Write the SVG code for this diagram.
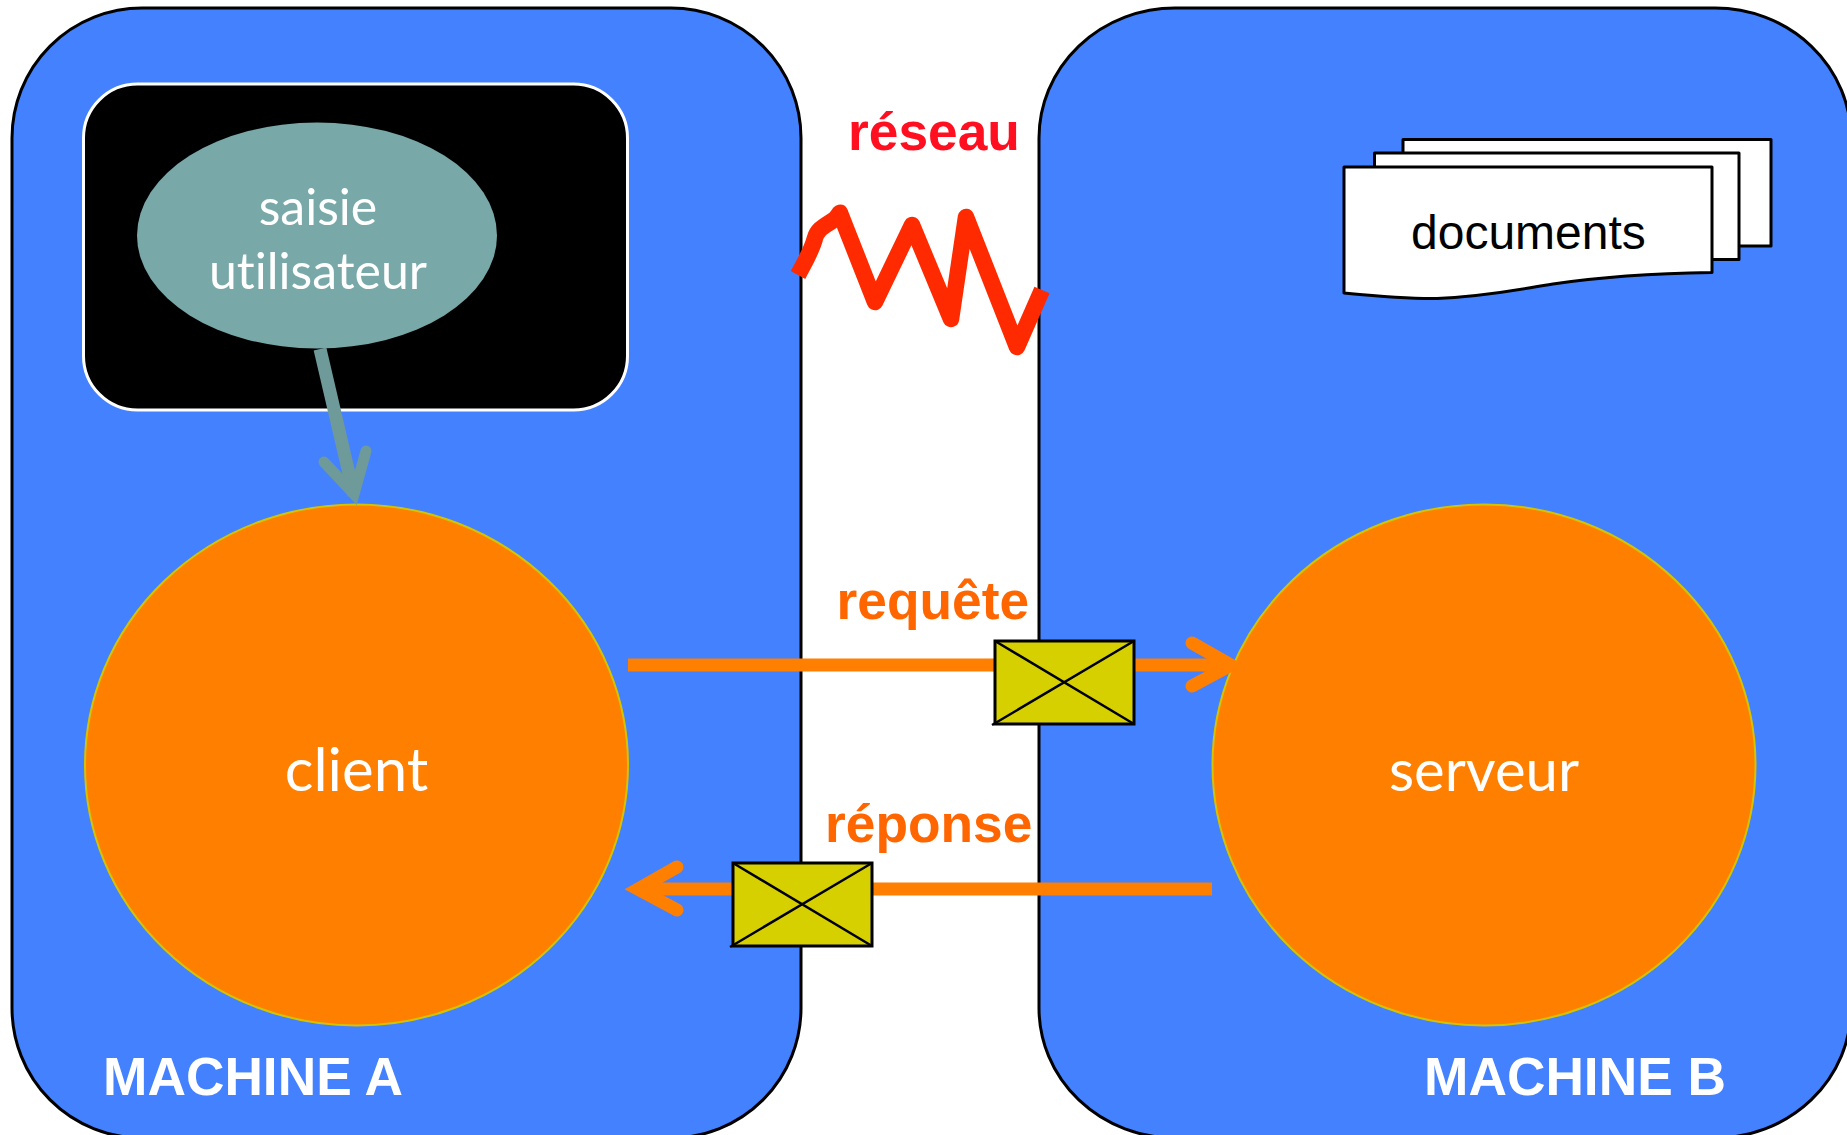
<svg xmlns="http://www.w3.org/2000/svg" width="1847" height="1135" viewBox="0 0 1847 1135">
<style>
.machine{fill:#4481ff;stroke:#000;stroke-width:3}
.proc{fill:#ff7f00;stroke:#d4c400;stroke-width:2}
.env{fill:#d6d000;stroke:#000;stroke-width:3}
.envx{fill:none;stroke:#000;stroke-width:2.5}
.doc{fill:#fff;stroke:#000;stroke-width:3;stroke-linejoin:round}
.b{font-family:"Liberation Sans",Arial,sans-serif;font-weight:700;font-size:53.300px}
.l{font-family:Lato,"Open Sans",sans-serif;fill:#fff;text-anchor:middle;font-weight:400;font-variant-ligatures:none}
.o{fill:#ff6600}
.w{fill:#fff}
.flow{fill:none;stroke:#ff7f00;stroke-width:13}
.head{fill:none;stroke:#ff7f00;stroke-width:13;stroke-linecap:round;stroke-linejoin:miter}
</style>
<rect width="1847" height="1135" fill="#fff"/>
<g id="machine-a"><rect class="machine" x="12" y="8" width="789" height="1130" rx="130" ry="130"/><text class="b w" x="103" y="1095">MACHINE A</text></g>
<g id="machine-b"><rect class="machine" x="1039" y="8" width="812" height="1130" rx="136" ry="130"/><text class="b w" x="1424" y="1095">MACHINE B</text></g>
<g id="ui-box"><rect x="83.500" y="84" width="544" height="326" rx="54" ry="54" fill="#000" stroke="#fff" stroke-width="3"/></g>
<g id="documents">
<path class="doc" d="M1403 139.500H1771V246H1403Z"/>
<path class="doc" d="M1374.500 153H1739V259.500H1374.500Z"/>
<path class="doc" d="M1344 167H1712V272.500C1650 273.500 1600 277 1553 284C1520 289 1490 296 1437 298.500C1405 299 1375 296 1344 293Z"/>
<text x="1411" y="249" font-family="Liberation Sans,Arial,sans-serif" font-size="48" fill="#000">documents</text>
</g>
<g id="saisie"><ellipse cx="317" cy="235.500" rx="180" ry="113" fill="#78a8a8"/><text class="l" x="318" y="225" font-size="50">saisie</text><text class="l" x="318" y="289" font-size="50">utilisateur</text></g>
<g id="client"><ellipse class="proc" cx="356.500" cy="765" rx="271.500" ry="260.500"/><text class="l" x="356.500" y="791" font-size="60">client</text></g>
<g id="serveur"><ellipse class="proc" cx="1484" cy="765" rx="271.500" ry="260.500"/><text class="l" x="1484" y="791" font-size="58">serveur</text></g>
<g id="connectors">
<path fill="none" stroke="#ff2a00" stroke-width="16.500" stroke-linejoin="round" d="M798 275C806 260 812 250 815 238C818 228 825 226 835 219C838 216 840 212 840 213L875 302L912 225L951 319L966 217L1017 347L1042 290"/>
<path fill="none" stroke="#6f9a9a" stroke-width="13" d="M320 349L354 495"/>
<path fill="none" stroke="#6f9a9a" stroke-width="11" stroke-linecap="round" d="M324 462L354 494L366 451"/>
<path class="flow" d="M628 665H1230"/>
<path class="head" d="M1192 643L1231 665L1192 686"/>
<path class="flow" d="M640 889H1212"/>
<path class="head" d="M677 867L638 889L677 910"/>
</g>
<g id="msg-requete"><rect class="env" x="995" y="641" width="139" height="83"/><path class="envx" d="M995 641L1134 724M1134 641L992 725"/></g>
<g id="msg-reponse"><rect class="env" x="733" y="863" width="139" height="83"/><path class="envx" d="M733 863L872 946M872 863L730 947"/></g>
<g id="labels">
<text class="b" x="848" y="150" fill="#ff0f1f">réseau</text>
<text class="b o" x="836.500" y="619">requête</text>
<text class="b o" x="825" y="842">réponse</text>
</g>
</svg>
